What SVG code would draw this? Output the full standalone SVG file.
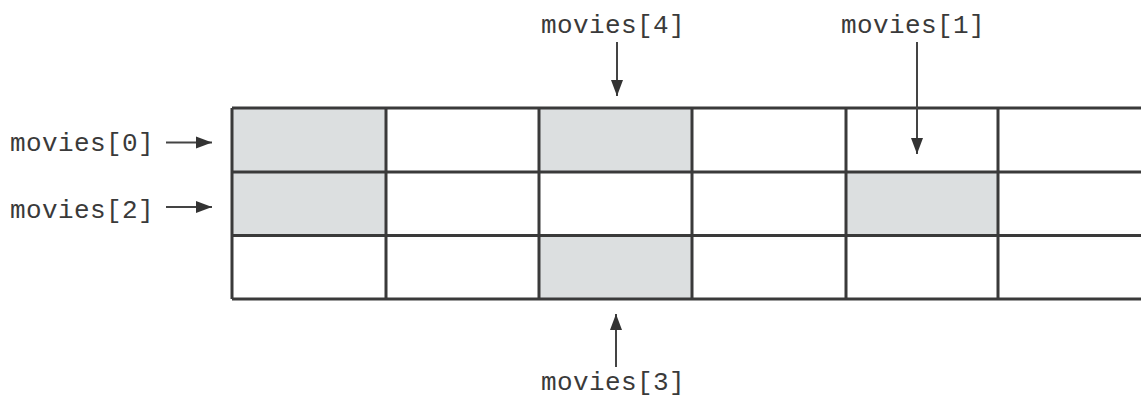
<svg xmlns="http://www.w3.org/2000/svg" width="1141" height="398" viewBox="0 0 1141 398">
<style>
.lbl{font-family:"Liberation Mono","Courier New",monospace;font-size:26px;fill:#3a3a3a;letter-spacing:0.4px}
.grid{stroke:#3a3a3a;stroke-width:3;fill:none}
.shade{fill:#dcdfe0}
.arr{stroke:#444;stroke-width:2;fill:none;marker-end:url(#ah)}
</style>
<defs>
<marker id="ah" markerWidth="17" markerHeight="14" refX="16" refY="7" orient="auto" markerUnits="userSpaceOnUse">
<path d="M0,1 L16,7 L0,13 Z" fill="#333"/>
</marker>
</defs>
<rect width="1141" height="398" fill="#fff"/>
<g id="grid">
<rect class="shade" x="232" y="108" width="154" height="127.5"/>
<rect class="shade" x="539" y="108" width="153" height="64"/>
<rect class="shade" x="846" y="172" width="152" height="63.5"/>
<rect class="shade" x="539" y="235.5" width="153" height="63.5"/>
<path class="grid" d="M232,108 H1141 M232,172 H1141 M232,235.5 H1141 M232,299 H1141 M232,108 V299 M386,108 V299 M539,108 V299 M692,108 V299 M846,108 V299 M998,108 V299"/>
</g>
<g id="movies0"><text class="lbl" x="10" y="151">movies[0]</text></g>
<g id="movies2"><text class="lbl" x="10" y="218">movies[2]</text></g>
<g id="movies4"><text class="lbl" x="541" y="33">movies[4]</text></g>
<g id="movies1"><text class="lbl" x="841" y="33">movies[1]</text></g>
<g id="movies3"><text class="lbl" x="541" y="390">movies[3]</text></g>
<g id="connectors">
<line class="arr" x1="166" y1="142.5" x2="212" y2="142.5"/>
<line class="arr" x1="166" y1="207" x2="212" y2="207"/>
<line class="arr" x1="617" y1="42" x2="617" y2="96"/>
<line class="arr" x1="917" y1="42" x2="917" y2="154"/>
<line class="arr" x1="616" y1="367" x2="616" y2="314"/>
</g>
</svg>
